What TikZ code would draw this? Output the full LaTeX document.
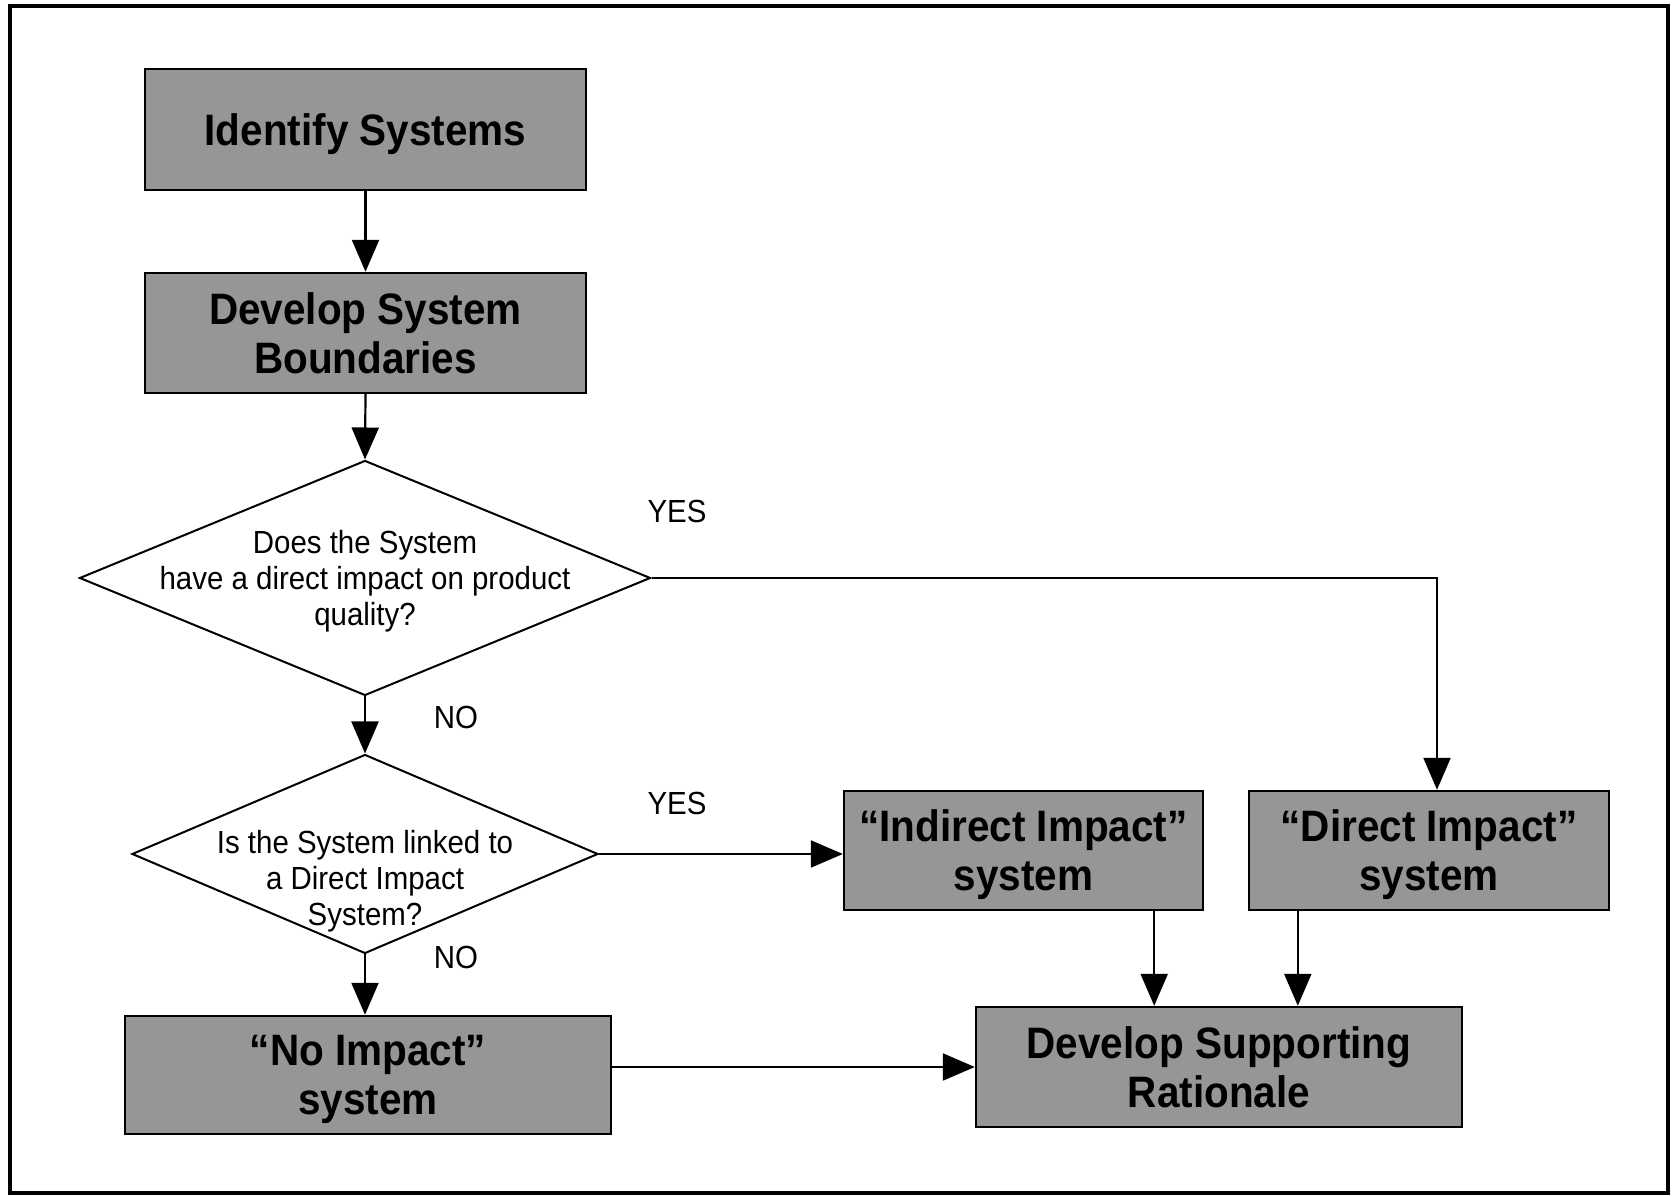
\documentclass[tikz,border=0pt]{standalone}
\usepackage{fontspec}
\setmainfont[FakeStretch=0.92]{Liberation Sans}
\usetikzlibrary{shapes.geometric, arrows.meta, positioning, calc}
\definecolor{boxcolor}{RGB}{150,150,150}

\begin{document}
\begin{tikzpicture}[
    x=1pt, y=1pt,
    process/.style={rectangle, draw, line width=2.4pt, fill=boxcolor, inner sep=0pt, align=center, text depth=0pt, font=\fontsize{44}{49}\selectfont\bfseries},
    decision/.style={diamond, draw, line width=2pt, fill=white, inner sep=0pt},
    question/.style={align=center, text depth=0pt, font=\fontsize{32}{36}\selectfont},
    answer/.style={font=\fontsize{32}{36}\selectfont},
    arrow/.style={-{Triangle[length=32pt, width=27pt]}, line width=2.2pt}
]

    \useasboundingbox (0,0) rectangle (1673,1196);
    % outer frame
    \draw[line width=3.5pt] (10,3) rectangle (1668,1190);

    % Main column
    \node[process, minimum width=441pt, minimum height=121pt] (identify) at (365.5,1066.5) {Identify Systems};
    \node[process, minimum width=441pt, minimum height=120pt] (bounds) at (365.5,863) {Develop System\\Boundaries};

    % Decisions
    \node[decision, minimum width=571pt, minimum height=235pt] (directq) at (365,618) {};
    \node[question] (directqtext) at (directq.center) {Does the System\\have a direct impact on product\\quality?};
    \node[decision, minimum width=466pt, minimum height=199pt] (linkq) at (365,342) {};
    \node[question] (linkqtext) at ([yshift=-24pt]linkq.center) {Is the System linked to\\a Direct Impact\\System?};

    % Outcomes
    \node[process, minimum width=359pt, minimum height=119pt] (indirect) at (1023.5,345.5) {``Indirect Impact''\\system};
    \node[process, minimum width=360pt, minimum height=119pt] (direct) at (1429,345.5) {``Direct Impact''\\system};
    \node[process, minimum width=486pt, minimum height=118pt] (noimpact) at (368,121) {``No Impact''\\system};
    \node[process, minimum width=486pt, minimum height=120pt] (rationale) at (1219,129) {Develop Supporting\\Rationale};

    % Answers
    \node[answer] (yesdirect) at (677,685) {YES};
    \node[answer] (nodirect) at (456,479) {NO};
    \node[answer] (yeslink) at (677,393) {YES};
    \node[answer] (nolink) at (456,239) {NO};

    % Flow
    \draw[arrow] (identify.south) -- (bounds.north);
    \draw[arrow] (bounds.south) -- (directq.north);
    \draw[arrow] (directq.south) -- (linkq.north);
    \draw[arrow] (directq.east) -| ([xshift=8pt]direct.north);
    \draw[arrow] (linkq.east) -- (linkq.east -| indirect.west);
    \draw[arrow] (linkq.south) -- (linkq.south |- noimpact.north);
    \draw[arrow] ([xshift=-50pt]indirect.south east) -- ([xshift=-50pt]indirect.south east |- rationale.north);
    \draw[arrow] ([xshift=50pt]direct.south west) -- ([xshift=50pt]direct.south west |- rationale.north);
    \draw[arrow] (noimpact.east |- rationale.west) -- (rationale.west);

\end{tikzpicture}
\end{document}
